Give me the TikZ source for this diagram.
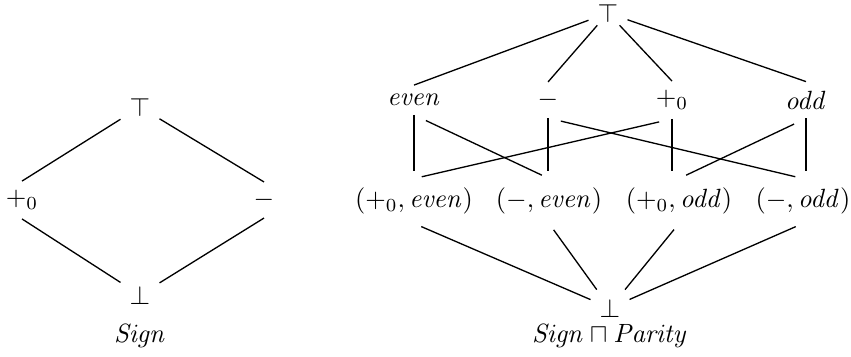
\documentclass[tikz,border=0pt]{standalone}
\usepackage{amsmath,amssymb}
\usepackage{tikz}
\usetikzlibrary{positioning, calc}

\begin{document}
\begin{tikzpicture}[
  x=0.3788pt, y=-0.3788pt,
  elem/.style={inner sep=3.3pt},
  edge/.style={line width=0.5pt},
  down/.style={edge, shorten >=3pt},
  cross/.style={edge, shorten <=5pt, shorten >=3pt},
  meet/.style={edge, shorten <=3pt}
]
\useasboundingbox (0,0) rectangle (851,356);

% Sign lattice
\node[elem] (stop) at (140,107) {$\top$};
\node[elem] (spos) at (22,200)  {$+_0$};
\node[elem] (sneg) at (264,200) {$-$};
\node[elem] (sbot) at (140,295) {$\bot$};
\node (slab) at (140,336) {$\mathit{Sign}$};

\foreach \s in {spos,sneg}{
  \draw[edge] (stop) -- (\s.north);
  \draw[edge] (\s.south) -- (sbot);
}

% Product lattice
\node[elem, inner ysep=1pt] (top) at (608,13) {$\top$};
\node[elem] (even) at (414,100) {$\mathit{even}$};
\node[elem] (neg)  at (548,100) {$-$};
\node[elem] (pos)  at (672,100) {$+_0$};
\node[elem] (odd)  at (806,100) {$\mathit{odd}$};

\node[elem] (pe) at (414,201) {$(+_0, \mathit{even})$};
\node[elem] (ne) at (549,201) {$(-, \mathit{even})$};
\node[elem] (po) at (679,201) {$(+_0, \mathit{odd})$};
\node[elem] (no) at (803,201) {$(-, \mathit{odd})$};

\node[elem] (bot) at (610,308) {$\bot$};
\node (plab) at (610,336) {$\mathit{Sign} \sqcap \mathit{Parity}$};

% Top to first row
\foreach \r in {even,neg,pos,odd}{
  \draw[edge] (top) -- (\r.north);
}

% First row to pairs
\draw[down] (even.south) -- (even.south |- pe.north);
\draw[down] (neg.south) -- (neg.south |- ne.north);
\draw[down] (pos.south) -- (pos.south |- po.north);
\draw[down] (odd.south) -- (odd.south |- no.north);
\draw[cross] (even.south) -- (ne.north);
\draw[cross] (pos.south) -- (pe.north);
\draw[cross] (neg.south) -- (no.north);
\draw[cross] (odd.south) -- (po.north);

% Pairs to bottom
\foreach \p in {pe,ne,po,no}{
  \draw[meet] (\p.south) -- (bot);
}

\end{tikzpicture}
\end{document}
